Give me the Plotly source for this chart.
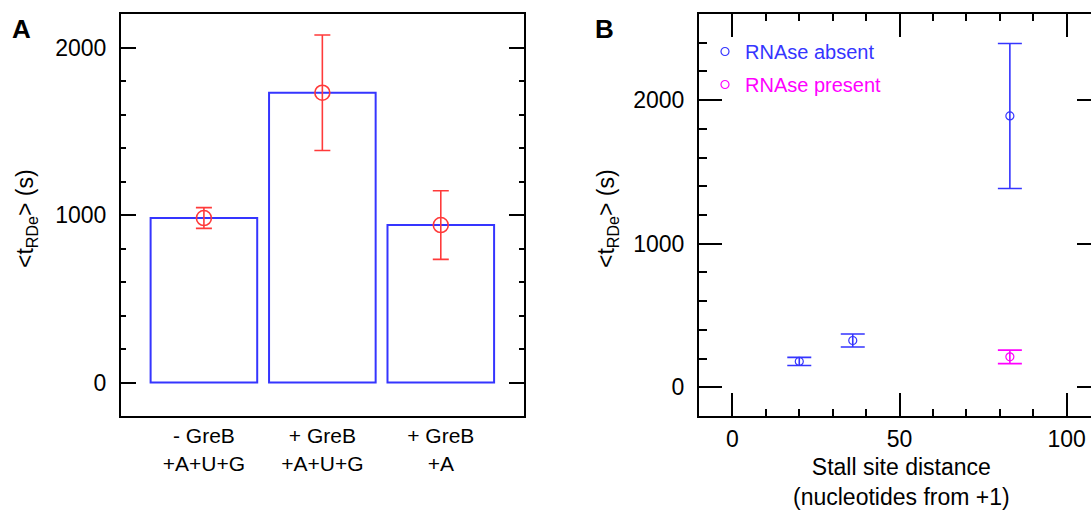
import plotly.graph_objects as go

# ---------------- data ----------------
# Panel A
conditions = ["- GreB<br>+A+U+G", "+ GreB<br>+A+U+G", "+ GreB<br>+A"]
mean_a = [982, 1730, 940]
err_a = [62, 345, 205]

# Panel B
absent_dist = [20, 36, 83]
absent_mean = [180, 326, 1890]
absent_err = [28, 45, 505]
present_dist = [83]
present_mean = [212]
present_err = [47]

BLUE = "#3535ff"
RED = "#ff3a3a"
MAGENTA = "#ff00ff"
FONT = "Liberation Sans, Arial, sans-serif"

W, H = 1091, 513
T, B = 14, 97
PH = H - T - B


def px_x(p):
    return p / W


def px_y(p):
    return (H - B - p) / PH


fig = go.Figure()

fig.add_trace(go.Bar(
    x=conditions, y=mean_a, width=0.9,
    marker=dict(color="rgba(0,0,0,0)", line=dict(color=BLUE, width=2)),
    xaxis="x", yaxis="y", showlegend=False, hoverinfo="skip"))
fig.add_trace(go.Scatter(
    x=conditions, y=mean_a, mode="markers",
    marker=dict(symbol="circle-open", size=15, color=RED, line=dict(width=1.6, color=RED)),
    error_y=dict(type="data", array=err_a, color=RED, thickness=1.6, width=8),
    xaxis="x", yaxis="y", showlegend=False))

fig.add_trace(go.Scatter(
    x=absent_dist, y=absent_mean, mode="markers",
    name=f'<span style="color:{BLUE}">RNAse absent</span>',
    legendgroup="a",
    marker=dict(symbol="circle-open", size=8, color=BLUE, line=dict(width=1.2, color=BLUE)),
    error_y=dict(type="data", array=absent_err, color=BLUE, thickness=1.6, width=12),
    xaxis="x2", yaxis="y2"))
fig.add_trace(go.Scatter(
    x=present_dist, y=present_mean, mode="markers",
    name=f'<span style="color:{MAGENTA}">RNAse present</span>',
    legendgroup="p",
    marker=dict(symbol="circle-open", size=8, color=MAGENTA, line=dict(width=1.2, color=MAGENTA)),
    error_y=dict(type="data", array=present_err, color=MAGENTA, thickness=1.6, width=12),
    xaxis="x2", yaxis="y3"))

axis_common = dict(showline=True, linecolor="black", linewidth=2, showgrid=False,
                   zeroline=False, tickcolor="black", tickfont=dict(size=23, color="black"))

fig.update_layout(
    width=W, height=H,
    margin=dict(l=0, r=0, t=T, b=B),
    paper_bgcolor="white", plot_bgcolor="white",
    font=dict(family=FONT, color="black"),
    showlegend=True,
    legend=dict(x=px_x(705), y=px_y(32), xanchor="left", yanchor="top",
                font=dict(size=20), bgcolor="rgba(0,0,0,0)", tracegroupgap=4,
                traceorder="grouped", itemwidth=30),
    xaxis=dict(domain=[px_x(121), px_x(523.7)], anchor="y", type="category",
               range=[-0.7, 2.7], mirror=True, ticks="", ticklabelstandoff=0,
               **{k: v for k, v in axis_common.items() if k != "tickfont"},
               tickfont=dict(size=21, color="black")),
    yaxis=dict(domain=[0, 1], anchor="x", range=[-200, 2200], tick0=0, dtick=1000,
               ticks="inside", ticklen=15, tickwidth=2, mirror="ticks",
               ticklabelstandoff=8,
               minor=dict(dtick=200, tick0=0, ticks="inside", ticklen=5, tickwidth=1.5,
                          tickcolor="black"),
               **axis_common),
    xaxis2=dict(domain=[px_x(699), 1], anchor="y2", range=[-10, 107.27], tick0=0, dtick=50,
                ticks="inside", ticklen=23, tickwidth=2, mirror="ticks",
                ticklabelstandoff=1,
                minor=dict(dtick=10, tick0=0, ticks="inside", ticklen=7, tickwidth=1.5,
                           tickcolor="black"),
                **axis_common),
    yaxis2=dict(domain=[0, 1], anchor="x2", range=[-200, 2600], tick0=0, dtick=1000,
                ticks="inside", ticklen=23, tickwidth=2, mirror=False,
                ticklabelstandoff=8,
                minor=dict(dtick=200, tick0=0, ticks="inside", ticklen=8, tickwidth=1.5,
                           tickcolor="black"),
                **axis_common),
    yaxis3=dict(overlaying="y2", anchor="free", position=1, side="right",
                range=[-200, 2600], tickvals=[0, 1000, 2000], ticks="inside",
                ticklen=14, tickwidth=2, tickcolor="black", showticklabels=False,
                showline=False, showgrid=False, zeroline=False),
)

ann = [
    dict(text="<b>A</b>", x=px_x(21), y=px_y(29), font=dict(size=26)),
    dict(text="<b>B</b>", x=px_x(604), y=px_y(29), font=dict(size=26)),
    dict(text="&lt;t<sub>RDe</sub>&gt; (s)", x=px_x(27), y=px_y(219), textangle=-90,
         font=dict(size=23)),
    dict(text="&lt;t<sub>RDe</sub>&gt; (s)", x=px_x(608), y=px_y(219), textangle=-90,
         font=dict(size=23)),
    dict(text="Stall site distance<br>(nucleotides from +1)", x=px_x(901.5), y=px_y(482),
         font=dict(size=23)),
]
for a in ann:
    fig.add_annotation(xref="paper", yref="paper", xanchor="center", yanchor="middle",
                       showarrow=False, font_family=FONT, font_color="black",
                       **{k: v for k, v in a.items()})

fig.write_html(
    "out.html",
    config={"displayModeBar": False},
    post_script="document.body.style.margin='0';document.body.style.overflow='hidden';",
)
